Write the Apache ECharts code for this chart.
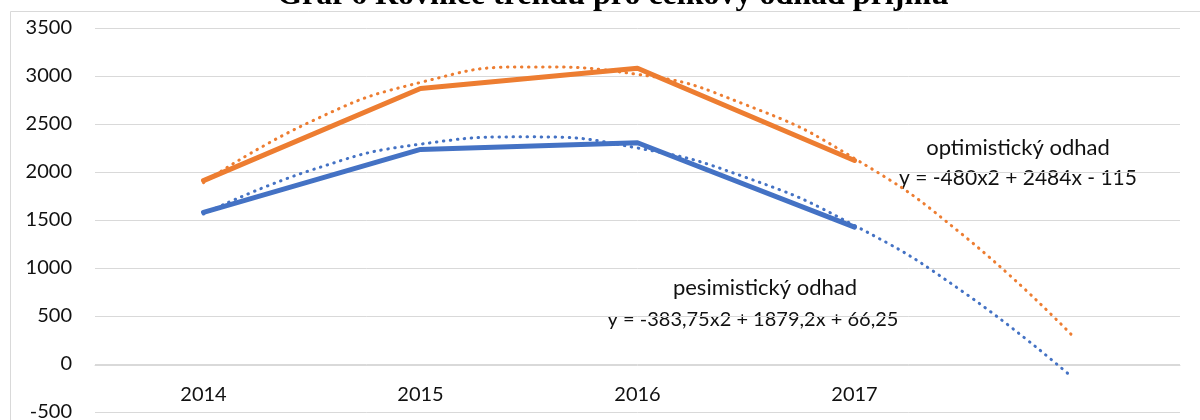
<!DOCTYPE html>
<html>
<head>
<meta charset="utf-8">
<script src="https://cdn.jsdelivr.net/npm/echarts@6/dist/echarts.min.js"></script>
<style>
  html, body { margin: 0; padding: 0; background: #fff; }
  #chart { width: 1200px; height: 420px; }
</style>
</head>
<body>
<div id="chart"></div>
<script>
  // data
  var years = ['2014', '2015', '2016', '2017', ''];
  var optimistic = [1910, 2870, 3080, 2120, null];
  var pessimistic = [1580, 2235, 2305, 1425, null];
  // trend curves, read at half steps (1 = 2014 ... 5 = one period ahead)
  var trendX = [1, 1.5, 2, 2.5, 3, 3.5, 4, 4.5, 5];
  var optimisticTrend = [1889, 2531, 2933, 3095, 3017, 2699, 2141, 1343, 305];
  var pessimisticTrend = [1562, 2022, 2290, 2366, 2250, 1943, 1443, 752, -132];
  var yMin = -500, yMax = 3500, yStep = 500;

  var font = 'Lato';

  function pairs(xs, ys) {
    return xs.map(function(x, i) { return [x, ys[i]]; });
  }

  var option = {
    animation: false,
    backgroundColor: '#fff',
    grid: { left: 95, right: 20, top: 28, bottom: 8, containLabel: false, outerBoundsMode: 'none' },
    xAxis: [{
      type: 'category',
      data: years,
      boundaryGap: true,
      offset: -47, // category labels sit under the zero line
      axisLine: { show: true, onZero: false, lineStyle: { color: '#d9d9d9', width: 1 } },
      axisTick: { show: false },
      axisLabel: { color: '#111', fontFamily: font, fontSize: 20, margin: 20, interval: 0 },
      splitLine: { show: false }
    }, {
      // same span as the categories, used only for the trend curves
      type: 'value',
      min: 0.5,
      max: 5.5,
      show: false
    }],
    yAxis: {
      type: 'value',
      min: yMin,
      max: yMax,
      interval: yStep,
      axisLine: { show: false },
      axisTick: { show: false },
      axisLabel: {
        color: '#111', fontFamily: font, fontSize: 20, margin: 23,
        formatter: function(v) { return String(v); }
      },
      splitLine: { lineStyle: { color: '#d9d9d9', width: 1 } }
    },
    series: [{
      name: 'optimistický odhad',
      type: 'line',
      data: optimistic,
      symbol: 'none',
      lineStyle: { color: '#ed7d31', width: 5, cap: 'round', join: 'round' },
      z: 2
    }, {
      name: 'pesimistický odhad',
      type: 'line',
      data: pessimistic,
      symbol: 'none',
      lineStyle: { color: '#4472c4', width: 5, cap: 'round', join: 'round' },
      z: 2
    }, {
      name: 'trend optimistický',
      type: 'line',
      xAxisIndex: 1,
      data: pairs(trendX, optimisticTrend),
      symbol: 'none',
      smooth: 0.5,
      lineStyle: { color: '#ed7d31', width: 3, type: [0.5, 6.5], cap: 'round' },
      z: 3
    }, {
      name: 'trend pesimistický',
      type: 'line',
      xAxisIndex: 1,
      data: pairs(trendX, pessimisticTrend),
      symbol: 'none',
      smooth: 0.5,
      lineStyle: { color: '#4472c4', width: 3, type: [0.5, 6.5], cap: 'round' },
      z: 3
    }],
    graphic: [{
      type: 'rect',
      shape: { x: 10.5, y: 11.5, width: 1300, height: 500 },
      style: { fill: 'none', stroke: '#d9d9d9', lineWidth: 1 },
      silent: true, z: -1
    }, {
      type: 'text',
      x: 613, y: -4,
      style: {
        text: 'Graf 6 Rovnice trendu pro celkový odhad příjmu',
        font: 'bold 32px "Liberation Serif"',
        fill: '#000', textAlign: 'center', textVerticalAlign: 'middle'
      }
    }, {
      type: 'text',
      x: 1018, y: 148,
      style: { text: 'optimistický odhad', font: '22px ' + font, fill: '#111', textAlign: 'center', textVerticalAlign: 'middle' }
    }, {
      type: 'text',
      x: 1018, y: 178,
      style: { text: 'y = -480x2 + 2484x - 115', font: '21px ' + font, fill: '#111', textAlign: 'center', textVerticalAlign: 'middle' }
    }, {
      type: 'text',
      x: 765, y: 288,
      style: { text: 'pesimistický odhad', font: '22px ' + font, fill: '#111', textAlign: 'center', textVerticalAlign: 'middle' }
    }, {
      type: 'text',
      x: 753, y: 320,
      style: { text: 'y = -383,75x2 + 1879,2x + 66,25', font: '20px ' + font, fill: '#111', textAlign: 'center', textVerticalAlign: 'middle' }
    }]
  };

  var chart = echarts.init(document.getElementById('chart'));
  chart.setOption(option);
</script>
</body>
</html>
